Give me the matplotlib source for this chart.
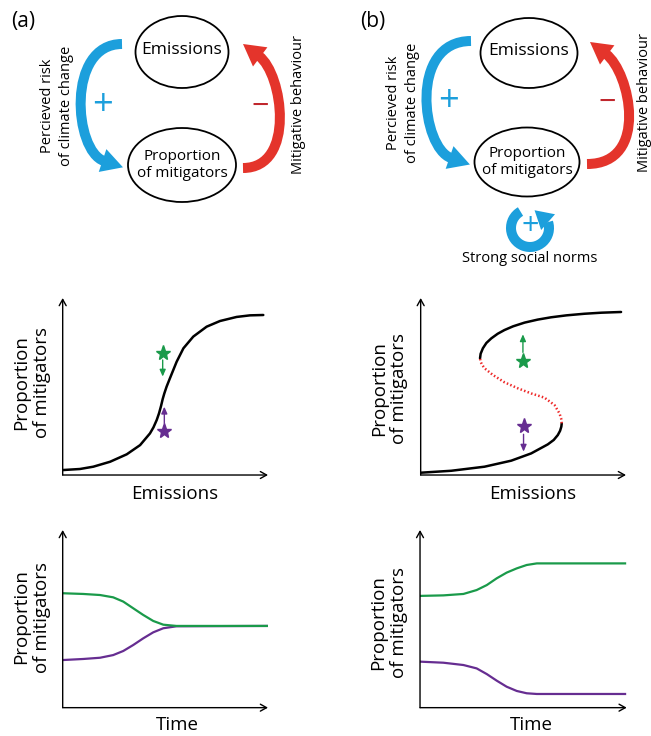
import numpy as np
import matplotlib
matplotlib.use("Agg")
import matplotlib.pyplot as plt
from matplotlib.patches import Ellipse, PathPatch, Polygon
from matplotlib.path import Path
from matplotlib.transforms import Affine2D

plt.rcParams['font.family'] = ['Open Sans', 'DejaVu Sans']

# ---- values (each small panel runs 0-100 on both axes) ----
# middle left: one stable branch
sig_x = [0, 8.4, 14.9, 23.1, 31.2, 37.7, 42.5, 44.2, 45.8, 46.9, 47.9, 48.7, 49.5, 50.6,
         51.9, 53.4, 55.5, 58.8, 63.6, 70.1, 76.6, 84.7, 91.2, 97.7]
sig_y = [2.8, 3.4, 4.7, 7.5, 11.7, 16.9, 23.5, 26.9, 31.1, 34.8, 39.0, 42.9, 46.1, 49.9,
         53.7, 58.0, 64.0, 71.6, 78.2, 83.8, 87.0, 89.3, 90.2, 90.4]

# middle right: bistable S curve
low_x = [0, 14.9, 31.1, 44.1, 53.8, 61.9, 64.8, 66.8, 67.9, 68.5, 68.7]
low_y = [1.3, 2.4, 4.7, 8.1, 12.2, 17.3, 19.8, 22.6, 25.0, 27.3, 29.2]
mid_x = [68.7, 68.4, 67.6, 65.2, 60.3, 53.8, 47.3, 40.8, 35.2, 31.1, 29.9, 29.2, 28.9]
mid_y = [29.2, 32.0, 34.8, 39.5, 43.7, 46.1, 49.0, 52.4, 56.5, 60.3, 62.3, 64.0, 65.9]
up_x = [28.9, 29.2, 30.3, 32.0, 34.4, 37.5, 40.8, 45.0, 50.6, 57.0, 63.5, 71.0, 79.7, 88.0, 97.6]
up_y = [65.9, 68.5, 71.6, 74.6, 77.2, 79.8, 81.9, 84.0, 86.1, 87.8, 89.1, 90.2, 91.1, 91.7, 92.1]

# stars and their little arrows: (x, y, arrow_from_y, arrow_to_y)
stars_a = {'green': (48.7, 68.7, 65.0, 55.6), 'purple': (49.5, 24.9, 29.2, 38.6)}
stars_b = {'green': (49.8, 64.4, 69.3, 79.5), 'purple': (50.1, 27.7, 23.0, 13.2)}

# bottom left: both trajectories end on the same state
ta_x = [0, 10.0, 18.2, 24.6, 29.5, 34.4, 39.2, 44.1, 49.0, 55.4, 100]
ta_green = [64.4, 64.0, 63.4, 62.1, 59.7, 55.9, 52.2, 48.8, 46.7, 46.0, 46.0]
ta_purple = [26.8, 27.4, 28.1, 29.6, 31.9, 35.3, 39.0, 42.4, 44.7, 45.8, 46.0]

# bottom right: trajectories split
tb_x = [0, 11.3, 21.0, 27.4, 32.3, 37.1, 41.9, 46.8, 51.6, 56.5, 99.2]
tb_green = [62.9, 63.2, 64.0, 66.2, 69.0, 72.8, 76.0, 78.4, 80.3, 81.2, 81.2]
tb_purple = [25.9, 25.3, 24.0, 22.1, 18.9, 15.2, 11.8, 9.4, 8.1, 7.7, 7.7]

BLUE = '#1c9fdc'
RED = '#e4342b'
DARKRED = '#c0272d'
GREEN = '#1a9a4a'
PURPLE = '#662d91'

fig = plt.figure(figsize=(6.51, 7.36), dpi=100)

# ---------- top feedback diagrams (pixel coordinates) ----------
dg = fig.add_axes([0, 0, 1, 1])
dg.set_xlim(0, 651)
dg.set_ylim(736, 0)
dg.axis('off')


def bent_arrow(ax, pts, color, lw=7.2, head_len=20, head_w=24):
    p0, c1, c2, p3 = [np.array(p, float) for p in pts]
    body = Path([p0, c1, c2, p3], [Path.MOVETO, Path.CURVE4, Path.CURVE4, Path.CURVE4])
    ax.add_patch(PathPatch(body, fc='none', ec=color, lw=lw, capstyle='butt'))
    d = p3 - c2
    d = d / np.hypot(*d)
    n = np.array([-d[1], d[0]])
    base = p3 - d * 1.5
    tip = p3 + d * head_len
    ax.add_patch(Polygon([tip, base + n * head_w / 2, base - n * head_w / 2],
                         closed=True, fc=color, ec='none'))


def ring_arrow(ax, cx, cy, r, a0, a1, head_dir, color, lw=7.2, head_len=18, head_w=21):
    arc = Path.arc(a0, a1).transformed(Affine2D().scale(r, -r).translate(cx, cy))
    ax.add_patch(PathPatch(arc, fc='none', ec=color, lw=lw, capstyle='butt'))
    t = np.radians(a1)
    base = np.array([cx + r * np.cos(t), cy - r * np.sin(t)])
    d = np.array(head_dir, float)
    d = d / np.hypot(*d)
    n = np.array([-d[1], d[0]])
    tip = base + d * head_len
    ax.add_patch(Polygon([tip, base + n * head_w / 2, base - n * head_w / 2],
                         closed=True, fc=color, ec='none'))


def loop_diagram(ax, em_c, em_wh, pr_c, pr_wh, blue_pts, red_pts, plus_xy, minus_xy,
                 left_xy, right_xy):
    ax.add_patch(Ellipse(em_c, *em_wh, fc='none', ec='black', lw=1.3))
    ax.add_patch(Ellipse(pr_c, *pr_wh, fc='none', ec='black', lw=1.3))
    ax.text(em_c[0], em_c[1] - 2, 'Emissions', ha='center', va='center', fontsize=12.5)
    ax.text(pr_c[0], pr_c[1], 'Proportion\nof mitigators', ha='center', va='center',
            fontsize=11, linespacing=1.25)
    bent_arrow(ax, blue_pts, BLUE)
    bent_arrow(ax, red_pts, RED)
    ax.text(*plus_xy, '+', color=BLUE, fontsize=26, ha='center', va='center')
    ax.text(*minus_xy, '\u2212', color=DARKRED, fontsize=22, ha='center', va='center')
    ax.text(*left_xy, 'Percieved risk\nof climate change', rotation=90, ha='center',
            va='center', fontsize=10.5, linespacing=1.35)
    ax.text(*right_xy, 'Mitigative behaviour', rotation=90, ha='center', va='center',
            fontsize=10.5)


# panel (a)
dg.text(23, 21, '(a)', fontsize=15, ha='center', va='center')
loop_diagram(dg, (182, 52), (93, 72), (182, 165), (108, 74),
             [(122, 44), (66, 44), (74, 151), (104, 161)],
             [(243, 168), (296, 168), (283, 74), (259, 56)],
             (102, 106), (260, 107), (57, 106), (299, 105))

# panel (b)
dg.text(373, 21, '(b)', fontsize=15, ha='center', va='center')
loop_diagram(dg, (529, 53), (97, 70), (527, 162), (105, 69),
             [(471, 41), (408, 41), (422, 148), (451, 158)],
             [(587, 164), (650, 164), (630, 72), (606, 54)],
             (448, 102), (607, 103), (403, 103), (645, 102))
ring_arrow(dg, 530, 228, 19, 120, 378, (-0.75, -0.66), BLUE)
dg.text(530, 227, '+', color=BLUE, fontsize=22, ha='center', va='center')
dg.text(530, 259, 'Strong social norms', ha='center', va='center', fontsize=10.5)


# ---------- small schematic plots ----------
def schematic_axes(rect, xlabel, xlab_pos, ylab_pos):
    ax = fig.add_axes(rect)
    ax.set_xlim(0, 100)
    ax.set_ylim(0, 100)
    for s in ax.spines.values():
        s.set_visible(False)
    ax.set_xticks([])
    ax.set_yticks([])
    ax.patch.set_alpha(0)
    arrow = dict(arrowstyle='->,head_length=0.45,head_width=0.25', lw=1.0,
                 color='black', shrinkA=0, shrinkB=0)
    ax.annotate('', xy=(0, 1), xytext=(0, 0), xycoords='axes fraction', arrowprops=arrow)
    ax.annotate('', xy=(1, 0), xytext=(0, 0), xycoords='axes fraction', arrowprops=arrow)
    ax.text(*xlab_pos, xlabel, transform=ax.transAxes, ha='center', va='center',
            fontsize=13.5)
    ax.text(*ylab_pos, 'Proportion\nof mitigators', transform=ax.transAxes, rotation=90,
            ha='center', va='center', fontsize=13.5, linespacing=1.2)
    return ax


def draw_stars(ax, stars):
    for name, (x, y, y0, y1) in stars.items():
        c = GREEN if name == 'green' else PURPLE
        ax.plot(x, y, marker='*', ms=11, color=c, mec=c, clip_on=False)
        ax.annotate('', xy=(x, y1), xytext=(x, y0),
                    arrowprops=dict(arrowstyle='-|>,head_length=0.5,head_width=0.22',
                                    lw=1.0, color=c, shrinkA=0, shrinkB=0,
                                    mutation_scale=8))


ax1 = schematic_axes([0.0963, 0.3546, 0.3154, 0.2405], 'Emissions', (0.545, -0.11),
                     (-0.15, 0.52))
ax1.plot(sig_x, sig_y, color='black', lw=1.8, solid_capstyle='round',
         solid_joinstyle='round')
draw_stars(ax1, stars_a)

ax2 = schematic_axes([0.6462, 0.3546, 0.3154, 0.2405], 'Emissions', (0.545, -0.11),
                     (-0.154, 0.49))
ax2.plot(low_x, low_y, color='black', lw=1.8, solid_capstyle='round',
         solid_joinstyle='round')
ax2.plot(up_x, up_y, color='black', lw=1.8, solid_capstyle='round',
         solid_joinstyle='round')
ax2.plot(mid_x, mid_y, color='#ee2a2a', lw=1.8, ls=(0, (0.6, 0.9)))
draw_stars(ax2, stars_b)

ax3 = schematic_axes([0.0963, 0.0385, 0.3154, 0.2414], 'Time', (0.56, -0.095),
                     (-0.15, 0.51))
ax3.plot(ta_x, ta_purple, color=PURPLE, lw=1.6, solid_joinstyle='round')
ax3.plot(ta_x, ta_green, color=GREEN, lw=1.6, solid_joinstyle='round')

ax4 = schematic_axes([0.6452, 0.0385, 0.3175, 0.2414], 'Time', (0.54, -0.095),
                     (-0.15, 0.48))
ax4.plot(tb_x, tb_green, color=GREEN, lw=1.6, solid_joinstyle='round')
ax4.plot(tb_x, tb_purple, color=PURPLE, lw=1.6, solid_joinstyle='round')

fig.savefig('out.png', dpi=100)
